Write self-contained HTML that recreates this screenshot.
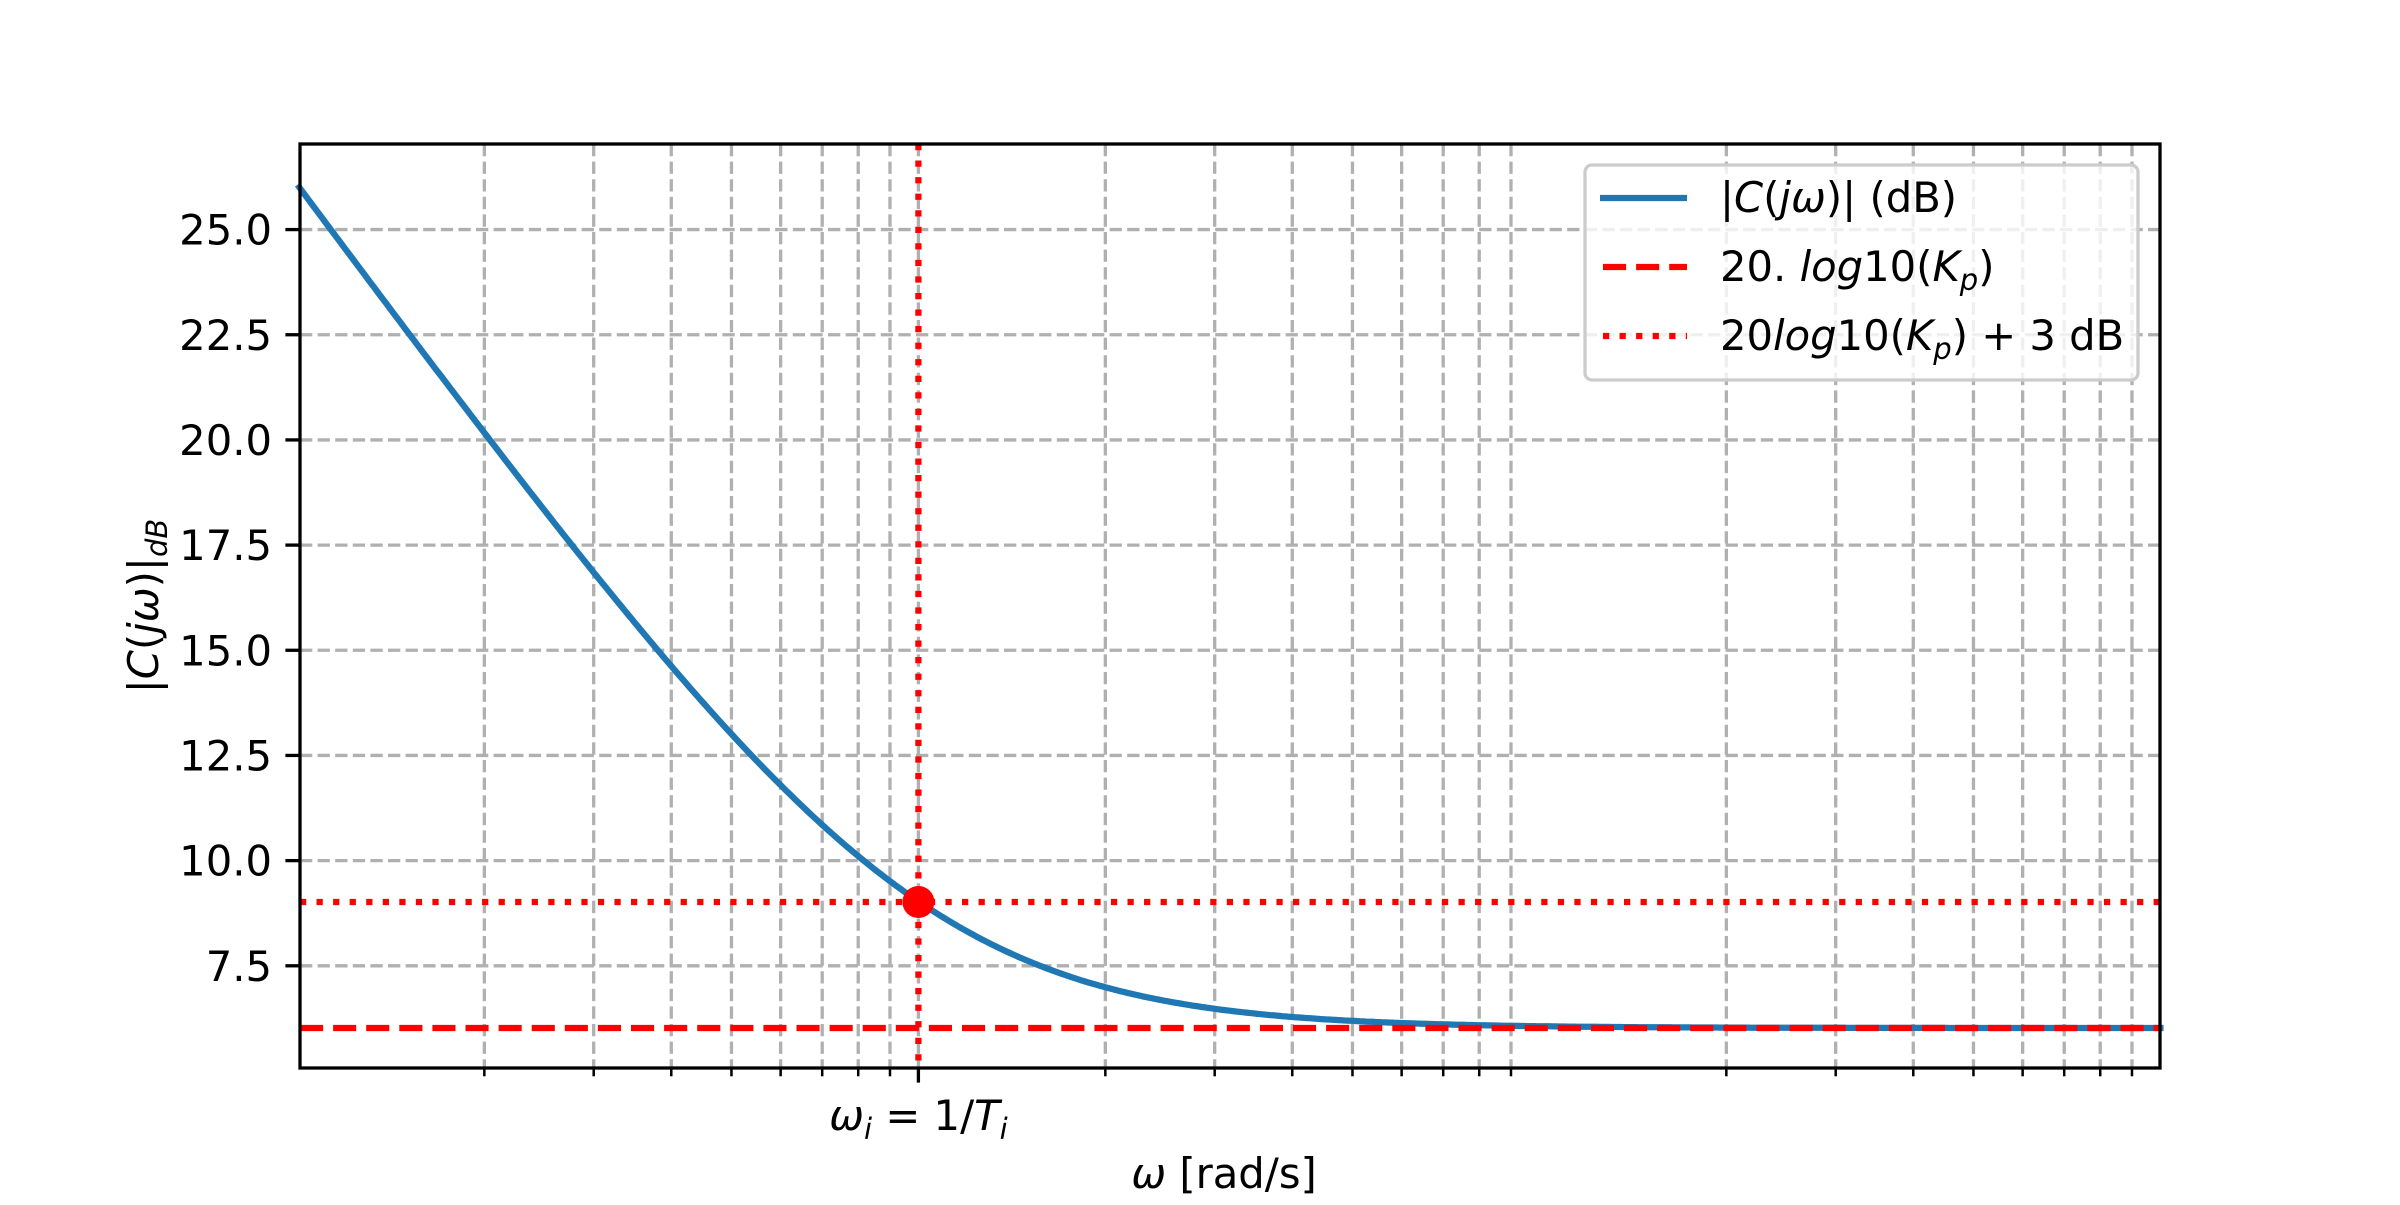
<!DOCTYPE html>
<html><head><meta charset="utf-8"><style>
html,body{margin:0;padding:0;background:#fff;}
svg text{font-family:"DejaVu Sans","Liberation Sans",sans-serif;font-size:41.7px;fill:#000;}
</style></head><body>
<svg id="s" width="2400" height="1200" viewBox="0 0 2400 1200" xmlns="http://www.w3.org/2000/svg">
<rect width="2400" height="1200" fill="#fff"/>
<g id="grid"></g>
<path id="curve" fill="none" stroke="#1f77b4" stroke-width="6.25" stroke-linecap="square"/>
<line x1="300" x2="2160" y1="1028" y2="1028" stroke="#ff0000" stroke-width="6.25" stroke-dasharray="23.1,10"/>
<line x1="300" x2="2160" y1="902" y2="902" stroke="#ff0000" stroke-width="6.25" stroke-dasharray="6.25,10.3"/>
<line x1="918.4" x2="918.4" y1="144" y2="1068" stroke="#ff0000" stroke-width="6.25" stroke-dasharray="6.25,10.3"/>
<circle cx="918.4" cy="902" r="16" fill="#ff0000"/>
<rect x="300" y="144" width="1860" height="924" fill="none" stroke="#000" stroke-width="3.3"/>
<g id="ticks"></g>
<text x="918.4" y="1130" text-anchor="middle"><tspan font-style="italic">ω</tspan><tspan font-size="29" font-style="italic" dy="9">i</tspan><tspan dy="-9"> = 1/</tspan><tspan font-style="italic">T</tspan><tspan font-size="29" font-style="italic" dy="9">i</tspan></text>
<text x="1224" y="1188" text-anchor="middle"><tspan font-style="italic">ω</tspan> [rad/s]</text>
<text transform="translate(158,606) rotate(-90)" text-anchor="middle">|<tspan font-style="italic">C</tspan>(<tspan font-style="italic">jω</tspan>)|<tspan font-size="29" font-style="italic" dy="9">dB</tspan></text>
<rect x="1585" y="165" width="553" height="215" rx="7" fill="#fff" fill-opacity="0.8" stroke="#cccccc" stroke-width="3.3"/>
<line x1="1600" x2="1687" y1="198" y2="198" stroke="#1f77b4" stroke-width="6.25"/>
<line x1="1603" x2="1687" y1="267" y2="267" stroke="#ff0000" stroke-width="6.25" stroke-dasharray="23.1,10"/>
<line x1="1603" x2="1687" y1="336" y2="336" stroke="#ff0000" stroke-width="6.25" stroke-dasharray="6.25,10.3"/>
<text x="1720" y="212">|<tspan font-style="italic">C</tspan>(<tspan font-style="italic">jω</tspan>)| (dB)</text>
<text x="1720" y="281">20. <tspan font-style="italic">log</tspan>10(<tspan font-style="italic">K</tspan><tspan font-size="29" font-style="italic" dy="9">p</tspan><tspan dy="-9">)</tspan></text>
<text x="1720" y="350">20<tspan font-style="italic">log</tspan>10(<tspan font-style="italic">K</tspan><tspan font-size="29" font-style="italic" dy="9">p</tspan><tspan dy="-9">) + 3 dB</tspan></text>
</svg>
<script>
var NS="http://www.w3.org/2000/svg";
var x0=300,x1=2160,D=621,wiX=918.4;
function X(l){return wiX+l*D;}
function Y(v){return 965.8-(v-7.5)*42.07;}
var g=document.getElementById('grid'),t=document.getElementById('ticks');
function ln(p,a,b,c,d,col,w,da){var e=document.createElementNS(NS,'line');e.setAttribute('x1',a);e.setAttribute('y1',b);e.setAttribute('x2',c);e.setAttribute('y2',d);e.setAttribute('stroke',col);e.setAttribute('stroke-width',w);if(da)e.setAttribute('stroke-dasharray',da);p.appendChild(e);}
for(var dec=-1;dec<=2;dec++){for(var k=1;k<=9;k++){var l=dec+Math.log10(k);var x=X(l);if(x<x0+2||x>x1-1)continue;
var major=(dec==0&&k==1);
if(k==1&&!major)continue;
ln(g,x,144,x,1068,'#b0b0b0',3.3,'12.3,5.3');
ln(t,x,1068,x,1068+(major?14.6:8.3),'#000',major?3.3:2.5);}}
for(var v=7.5;v<=25.01;v+=2.5){var y=Y(v);ln(g,300,y,2160,y,'#b0b0b0',3.3,'12.3,5.3');ln(t,300,y,285.4,y,'#000',3.3);
var tx=document.createElementNS(NS,'text');tx.setAttribute('x',272);tx.setAttribute('y',y+15);tx.setAttribute('text-anchor','end');tx.textContent=v.toFixed(1);t.appendChild(tx);}
var d='';for(var i=0;i<=600;i++){var l=-0.997+i*(2.997/600);var u=Math.pow(10,l);var db=20*Math.log10(2*Math.sqrt(1+1/(u*u)));d+=(i?'L':'M')+X(l).toFixed(1)+','+Y(db).toFixed(1);}
document.getElementById('curve').setAttribute('d',d);
</script>
</body></html>
